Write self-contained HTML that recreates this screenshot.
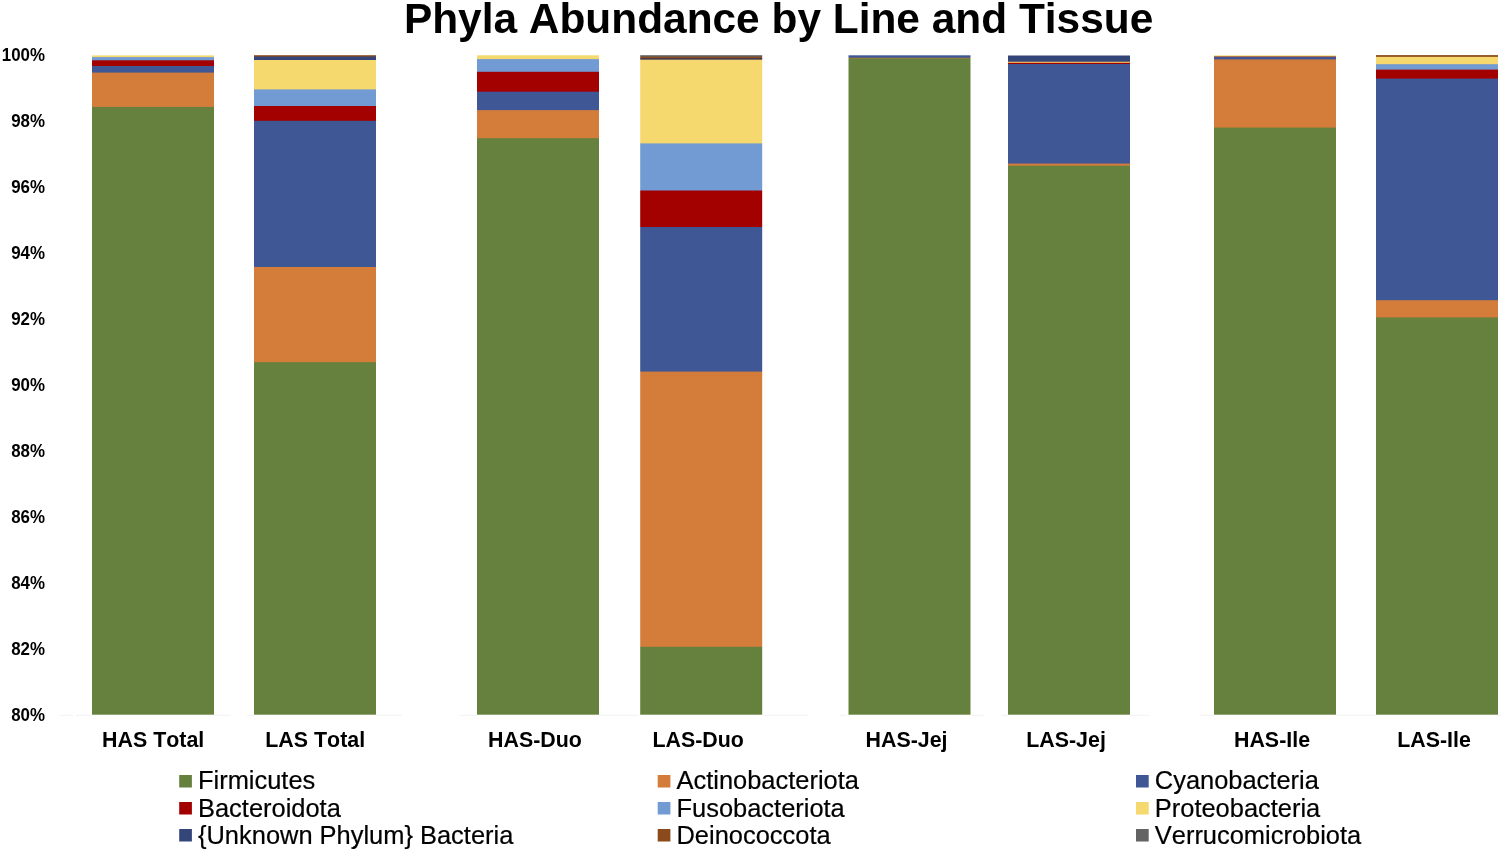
<!DOCTYPE html>
<html><head><meta charset="utf-8"><title>Phyla Abundance by Line and Tissue</title>
<style>
html,body{margin:0;padding:0;background:#fff;}
body{width:1505px;height:852px;overflow:hidden;}
svg{display:block;}
text{font-family:"Liberation Sans",Arial,Helvetica,sans-serif;fill:#000;font-kerning:none;}
.t{font-weight:bold;font-size:42.42px;}
.y{font-weight:bold;font-size:16.9px;text-anchor:end;}
.x{font-weight:bold;font-size:21.4px;text-anchor:middle;}
.l{font-size:25.45px;stroke:#000;stroke-width:0.2px;}
</style></head><body>
<svg width="1505" height="852" viewBox="0 0 1505 852">
<rect width="1505" height="852" fill="#fff"/>
<text class="t" x="403.9" y="33.2">Phyla Abundance by Line and Tissue</text>
<text class="y" transform="translate(45,61.2) scale(1,1.07)">100%</text>
<text class="y" transform="translate(45,127.1) scale(1,1.07)">98%</text>
<text class="y" transform="translate(45,193.1) scale(1,1.07)">96%</text>
<text class="y" transform="translate(45,259.0) scale(1,1.07)">94%</text>
<text class="y" transform="translate(45,325.0) scale(1,1.07)">92%</text>
<text class="y" transform="translate(45,390.9) scale(1,1.07)">90%</text>
<text class="y" transform="translate(45,456.8) scale(1,1.07)">88%</text>
<text class="y" transform="translate(45,522.8) scale(1,1.07)">86%</text>
<text class="y" transform="translate(45,588.7) scale(1,1.07)">84%</text>
<text class="y" transform="translate(45,654.7) scale(1,1.07)">82%</text>
<text class="y" transform="translate(45,720.6) scale(1,1.07)">80%</text>
<g stroke="#f2f2f2" stroke-width="1"><line x1="60" y1="715.3" x2="73" y2="715.3"/><line x1="76" y1="715.3" x2="92" y2="715.3"/><line x1="214" y1="715.3" x2="231" y2="715.3"/><line x1="247" y1="715.3" x2="254" y2="715.3"/><line x1="376" y1="715.3" x2="402" y2="715.3"/><line x1="460" y1="715.3" x2="477" y2="715.3"/><line x1="599" y1="715.3" x2="640" y2="715.3"/><line x1="762" y1="715.3" x2="808" y2="715.3"/><line x1="840" y1="715.3" x2="848.5" y2="715.3"/><line x1="970.5" y1="715.3" x2="983.5" y2="715.3"/><line x1="1001.5" y1="715.3" x2="1008" y2="715.3"/><line x1="1130" y1="715.3" x2="1149" y2="715.3"/><line x1="1200" y1="715.3" x2="1214" y2="715.3"/><line x1="1336" y1="715.3" x2="1376" y2="715.3"/><line x1="1498" y1="715.3" x2="1502" y2="715.3"/></g>
<rect x="92" y="55.4" width="122" height="658.60" fill="#f5d86e"/><rect x="92" y="57.1" width="122" height="656.90" fill="#729bd3"/><rect x="92" y="60.3" width="122" height="653.70" fill="#a30000"/><rect x="92" y="66.0" width="122" height="648.00" fill="#3f5795"/><rect x="92" y="72.6" width="122" height="641.40" fill="#d47c3a"/><rect x="92" y="106.95" width="122" height="607.75" fill="#65813d"/>
<rect x="254" y="55.2" width="122" height="658.80" fill="#8a4a1c"/><rect x="254" y="56.6" width="122" height="657.40" fill="#34457a"/><rect x="254" y="60.0" width="122" height="654.00" fill="#f5d86e"/><rect x="254" y="89.4" width="122" height="624.60" fill="#729bd3"/><rect x="254" y="106.0" width="122" height="608.00" fill="#a30000"/><rect x="254" y="120.8" width="122" height="593.20" fill="#3f5795"/><rect x="254" y="267.0" width="122" height="447.00" fill="#d47c3a"/><rect x="254" y="362.2" width="122" height="352.50" fill="#65813d"/>
<rect x="477" y="55.3" width="122" height="658.70" fill="#f5d86e"/><rect x="477" y="59.1" width="122" height="654.90" fill="#729bd3"/><rect x="477" y="71.8" width="122" height="642.20" fill="#a30000"/><rect x="477" y="91.7" width="122" height="622.30" fill="#3f5795"/><rect x="477" y="110.1" width="122" height="603.90" fill="#d47c3a"/><rect x="477" y="138.2" width="122" height="576.50" fill="#65813d"/>
<rect x="640" y="55.2" width="123" height="658.80" fill="#636363"/><rect x="640" y="56.7" width="123" height="657.30" fill="#8a4a1c"/><rect x="640" y="58.1" width="123" height="655.90" fill="#453a55"/><rect x="640" y="59.7" width="123" height="654.30" fill="#f5d86e"/><rect x="640" y="143.4" width="123" height="570.60" fill="#729bd3"/><rect x="640" y="190.5" width="123" height="523.50" fill="#a30000"/><rect x="640" y="227.0" width="123" height="487.00" fill="#3f5795"/><rect x="640" y="371.6" width="123" height="342.40" fill="#d47c3a"/><rect x="640" y="646.8" width="123" height="67.90" fill="#65813d"/><rect x="639" y="54" width="1.20" height="662" fill="#fff"/><rect x="762.2" y="54" width="1.80" height="662" fill="#fff"/>
<rect x="848" y="55.3" width="123" height="658.70" fill="#3f5795"/><rect x="848" y="57.8" width="123" height="656.20" fill="#d47c3a"/><rect x="848" y="58.3" width="123" height="656.40" fill="#65813d"/><rect x="847" y="54" width="1.50" height="662" fill="#fff"/><rect x="970.5" y="54" width="1.50" height="662" fill="#fff"/>
<rect x="1008" y="55.5" width="122" height="658.50" fill="#34457a"/><rect x="1008" y="61.7" width="122" height="652.30" fill="#ecc060"/><rect x="1008" y="62.9" width="122" height="651.10" fill="#a30000"/><rect x="1008" y="64.0" width="122" height="650.00" fill="#3f5795"/><rect x="1008" y="163.6" width="122" height="550.40" fill="#d47c3a"/><rect x="1008" y="165.7" width="122" height="549.00" fill="#65813d"/>
<rect x="1214" y="55.4" width="122" height="658.60" fill="#f5d86e"/><rect x="1214" y="56.0" width="122" height="658.00" fill="#d47c3a"/><rect x="1214" y="56.8" width="122" height="657.20" fill="#3f5795"/><rect x="1214" y="59.4" width="122" height="654.60" fill="#d47c3a"/><rect x="1214" y="127.6" width="122" height="587.10" fill="#65813d"/>
<rect x="1376" y="55.1" width="122" height="658.90" fill="#8a4a1c"/><rect x="1376" y="56.85" width="122" height="657.15" fill="#f5d86e"/><rect x="1376" y="64.2" width="122" height="649.80" fill="#729bd3"/><rect x="1376" y="69.6" width="122" height="644.40" fill="#a30000"/><rect x="1376" y="78.6" width="122" height="635.40" fill="#3f5795"/><rect x="1376" y="300.2" width="122" height="413.80" fill="#d47c3a"/><rect x="1376" y="317.4" width="122" height="397.30" fill="#65813d"/>
<text class="x" transform="translate(153.2,747.3) scale(1,1.045)">HAS Total</text>
<text class="x" transform="translate(315.2,747.3) scale(1,1.045)">LAS Total</text>
<text class="x" transform="translate(535.0,747.3) scale(1,1.045)">HAS-Duo</text>
<text class="x" transform="translate(698.2,747.3) scale(1,1.045)">LAS-Duo</text>
<text class="x" transform="translate(906.5,747.3) scale(1,1.045)">HAS-Jej</text>
<text class="x" transform="translate(1066.0,747.3) scale(1,1.045)">LAS-Jej</text>
<text class="x" transform="translate(1272.0,747.3) scale(1,1.045)">HAS-Ile</text>
<text class="x" transform="translate(1434.0,747.3) scale(1,1.045)">LAS-Ile</text>
<rect x="179.2" y="775.0" width="12.7" height="12.5" fill="#65813d"/><text class="l" x="198.0" y="789.4">Firmicutes</text>
<rect x="657.7" y="775.0" width="12.7" height="12.5" fill="#d47c3a"/><text class="l" x="676.5" y="789.4">Actinobacteriota</text>
<rect x="1136.0" y="775.0" width="12.7" height="12.5" fill="#3f5795"/><text class="l" x="1154.8" y="789.4">Cyanobacteria</text>
<rect x="179.2" y="802.0" width="12.7" height="12.5" fill="#a30000"/><text class="l" x="198.0" y="816.5">Bacteroidota</text>
<rect x="657.7" y="802.0" width="12.7" height="12.5" fill="#729bd3"/><text class="l" x="676.5" y="816.5">Fusobacteriota</text>
<rect x="1136.0" y="802.0" width="12.7" height="12.5" fill="#f5d86e"/><text class="l" x="1154.8" y="816.5">Proteobacteria</text>
<rect x="179.2" y="829.0" width="12.7" height="12.5" fill="#34457a"/><text class="l" x="198.0" y="843.6">{Unknown Phylum} Bacteria</text>
<rect x="657.7" y="829.0" width="12.7" height="12.5" fill="#8a4a1c"/><text class="l" x="676.5" y="843.6">Deinococcota</text>
<rect x="1136.0" y="829.0" width="12.7" height="12.5" fill="#636363"/><text class="l" x="1154.8" y="843.6">Verrucomicrobiota</text>
</svg>
</body></html>
